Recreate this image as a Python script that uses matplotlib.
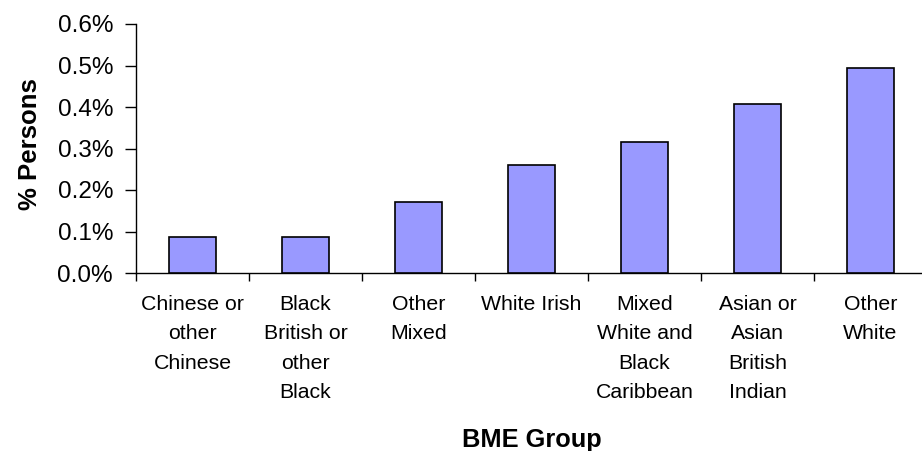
import matplotlib
matplotlib.use("Agg")
import matplotlib.pyplot as plt
import numpy as np
from matplotlib.ticker import FixedLocator, PercentFormatter

# Share of persons (%) in each BME group
groups = [
    "Chinese or\nother\nChinese",
    "Black\nBritish or\nother\nBlack",
    "Other\nMixed",
    "White Irish",
    "Mixed\nWhite and\nBlack\nCaribbean",
    "Asian or\nAsian\nBritish\nIndian",
    "Other\nWhite",
]
pct_persons = [0.086, 0.086, 0.172, 0.26, 0.316, 0.408, 0.495]

plt.rcParams["font.family"] = ["Liberation Sans", "DejaVu Sans"]

fig = plt.figure(figsize=(9.22, 4.51), dpi=100)
W, H = 922, 451
left, right, bottom, top = 136, 927, 273, 24
ax = fig.add_axes([left / W, 1 - bottom / H, (right - left) / W, (bottom - top) / H])

x = np.arange(len(groups))
ax.bar(x, pct_persons, width=0.41, color="#9999FF", edgecolor="black", linewidth=1.2, zorder=3)

ax.set_xlim(-0.5, len(groups) - 0.5)
ax.set_ylim(0, 0.6)
ax.set_yticks(np.arange(0, 0.61, 0.1))
ax.yaxis.set_major_formatter(PercentFormatter(100, decimals=1))

# boundaries get the tick marks, centres get the labels
ax.xaxis.set_major_locator(FixedLocator(np.arange(-0.5, len(groups), 1.0)))
ax.xaxis.set_major_formatter(plt.NullFormatter())
ax.set_xticks(x, minor=True)
ax.set_xticklabels(groups, minor=True, fontsize=15.3, linespacing=1.68)
ax.tick_params(axis="x", which="minor", length=0, pad=16)
ax.tick_params(axis="x", which="major", length=6, width=1, direction="out")
ax.tick_params(axis="y", length=8, width=1, direction="out", labelsize=17.5, pad=8.5)

for s in ["top", "right"]:
    ax.spines[s].set_visible(False)
for s in ["left", "bottom"]:
    ax.spines[s].set_linewidth(1)

ax.set_ylabel("% Persons", fontsize=18.5, fontweight="bold")
ax.yaxis.set_label_coords(-0.119, 0.518)
ax.set_xlabel("BME Group", fontsize=18.3, fontweight="bold")
ax.xaxis.set_label_coords(0.5, -0.622)

fig.savefig("out.png", dpi=100)
